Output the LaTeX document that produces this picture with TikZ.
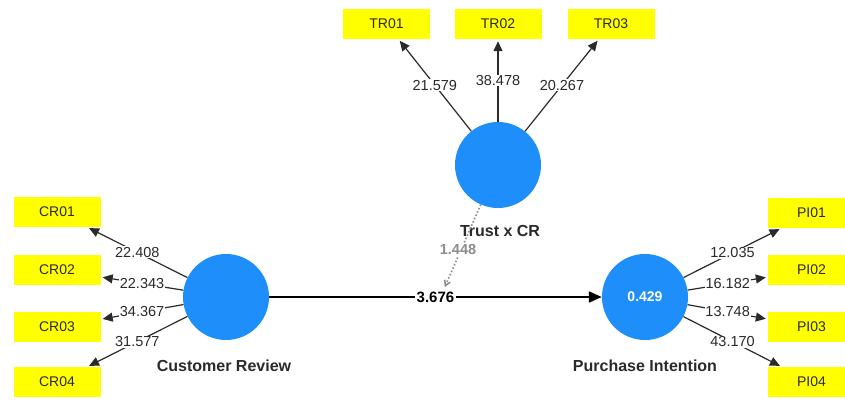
\documentclass[tikz,border=0pt]{standalone}
\usepackage{fontspec}
\setmainfont{Liberation Sans}
\usetikzlibrary{arrows.meta}
\definecolor{indyellow}{HTML}{FFFF00}
\definecolor{lvblue}{HTML}{1E8EFA}
\definecolor{txtdark}{HTML}{2A2A2A}
\definecolor{modgray}{HTML}{8C8C8C}
\begin{document}
\begin{tikzpicture}[x=1pt,y=-1pt,
  indbox/.style={fill=indyellow, minimum width=87pt, minimum height=30pt, inner sep=0pt,
    text=txtdark, font=\fontsize{14}{16}\selectfont},
  lv/.style={circle, fill=lvblue, minimum size=86pt, inner sep=0pt,
    text=white, font=\bfseries\fontsize{14}{16}\selectfont},
  lvlabel/.style={text=txtdark, font=\bfseries\fontsize{16}{18}\selectfont, inner sep=0pt},
  load/.style={draw=txtdark, line width=1.2pt, -{Triangle[length=10pt,width=9pt]}, shorten >=2pt},
  num/.style={fill=white, inner sep=0.8pt, text=txtdark, font=\fontsize{14.5}{16}\selectfont},
  path/.style={draw=black, line width=2pt, -{Triangle[length=13pt,width=11pt]}},
  pnum/.style={fill=white, inner sep=1.5pt, text=black, font=\bfseries\fontsize{15}{17}\selectfont},
  modline/.style={draw=modgray, line width=1.6pt, dotted, -{Straight Barb[length=5pt,width=6pt]}, shorten >=12pt},
  mnum/.style={fill=white, text=modgray, inner sep=1pt, font=\bfseries\fontsize{14.5}{17}\selectfont}
]
\clip (0,0) rectangle (845,400);
\fill[white] (0,0) rectangle (845,400);

% latent variables
\node[lv] (tr) at (498,165) {};
\node[lv] (cr) at (226,297) {};
\node[lv] (pi) at (645,297) {0.429};

\node[lvlabel] (trl) at (500,231) {Trust x CR};
\node[lvlabel] (crl) at (224,366) {Customer Review};
\node[lvlabel] (pil) at (645,366) {Purchase Intention};

% indicators
\node[indbox] (tr1) at (386.5,24) {TR01};
\node[indbox] (tr2) at (498,24) {TR02};
\node[indbox] (tr3) at (611,24) {TR03};

\node[indbox] (cr1) at (57,212) {CR01};
\node[indbox] (cr2) at (57,270) {CR02};
\node[indbox] (cr3) at (57,327) {CR03};
\node[indbox] (cr4) at (57,382) {CR04};

\node[indbox] (pi1) at (811.5,213) {PI01};
\node[indbox] (pi2) at (811.5,270) {PI02};
\node[indbox] (pi3) at (811.5,327) {PI03};
\node[indbox] (pi4) at (811.5,382) {PI04};

% loadings
\draw[load] (tr) -- node[num] {21.579} (tr1);
\draw[load] (tr) -- node[num] {38.478} (tr2);
\draw[load] (tr) -- node[num] {20.267} (tr3);

\draw[load] (cr) -- node[num] {22.408} (cr1);
\draw[load] (cr) -- node[num] {22.343} (cr2);
\draw[load] (cr) -- node[num] {34.367} (cr3);
\draw[load] (cr) -- node[num] {31.577} (cr4);

\draw[load] (pi) -- node[num] {12.035} (pi1);
\draw[load] (pi) -- node[num] {16.182} (pi2);
\draw[load] (pi) -- node[num] {13.748} (pi3);
\draw[load] (pi) -- node[num] {43.170} (pi4);

% structural path
\draw[path] (cr) -- node[pnum] {3.676} (pi);

% moderating effect
\coordinate (m) at (440,298);
\draw[modline] (tr) -- (m);
\node[mnum] (mn) at (458,250) {1.448};
\end{tikzpicture}
\end{document}
